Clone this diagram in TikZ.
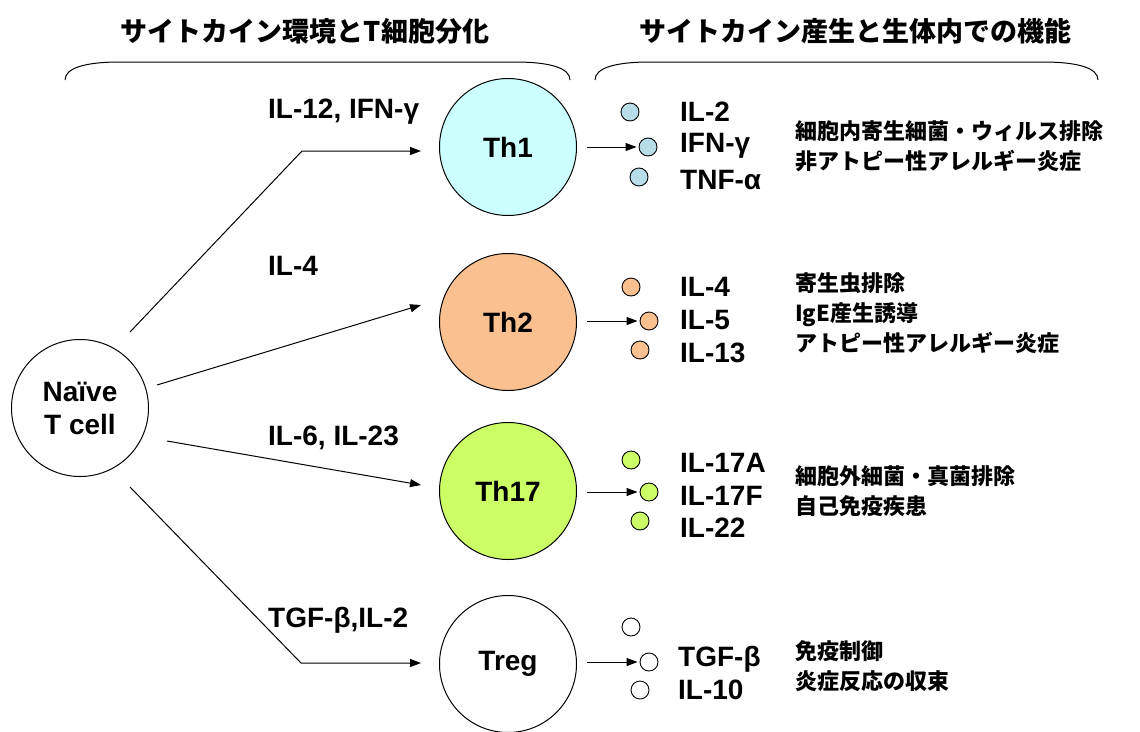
\documentclass[tikz,border=0pt]{standalone}
\usepackage{fontspec}
\setmainfont{Liberation Sans}
\newfontfamily\jp{Noto Sans CJK JP}
\usetikzlibrary{arrows.meta}
\definecolor{thone}{HTML}{CCFFFF}
\definecolor{thonesm}{HTML}{B7DEE8}
\definecolor{thtwo}{HTML}{FAC090}
\definecolor{thsev}{HTML}{CCFF66}
\begin{document}
\begin{tikzpicture}[x=1pt,y=-1pt,
  lat/.style={font=\fontsize{28}{33}\selectfont\bfseries, inner sep=0pt},
  cell/.style={circle, draw, line width=1pt, minimum size=137pt, inner sep=0pt, font=\fontsize{28}{33}\selectfont\bfseries, align=center},
  dot/.style={circle, draw, line width=0.9pt, minimum size=18pt, inner sep=0pt},
  lbl/.style={lat, anchor=west},
  desc/.style={font=\jp\bfseries\fontsize{22}{30}\selectfont, inner sep=0pt, anchor=west, align=left},
  ttl/.style={font=\jp\bfseries\fontsize{27}{32}\selectfont, inner sep=0pt},
  conn/.style={line width=1pt, -{Triangle[length=11pt,width=8pt]}},
  brace/.style={line width=1pt}]
\useasboundingbox (0,0) rectangle (1140,731);

% titles
\node[ttl] (t1) at (305,31) {サイトカイン環境とT細胞分化};
\node[ttl] (t2) at (855,31) {サイトカイン産生と生体内での機能};

% braces
\draw[brace] (65,80) .. controls (65,68) and (85,62) .. (120,62) -- (515,62) .. controls (550,62) and (570,68) .. (570,80);
\draw[brace] (595,80) .. controls (595,68) and (615,62) .. (650,62) -- (1043,62) .. controls (1078,62) and (1098,68) .. (1098,80);

% cells
\node[cell] (naive) at (80,408) {Naïve\\T cell};
\node[cell, fill=thone] (th1) at (508,147) {Th1};
\node[cell, fill=thtwo] (th2) at (508,322) {Th2};
\node[cell, fill=thsev] (th17) at (508,491) {Th17};
\node[cell] (treg) at (508,664) {Treg};

% left connectors
\coordinate (s1) at (130,332);
\coordinate (b1) at (302,151);
\coordinate (e1) at (421,151);
\coordinate (s2) at (157,385);
\coordinate (e2) at (421,305);
\coordinate (s3) at (167,441);
\coordinate (e3) at (421,485);
\coordinate (s4) at (130,487);
\coordinate (b4) at (301,663);
\coordinate (e4) at (421,663);
\draw[conn] (s1) -- (b1) -- (e1);
\draw[conn] (s2) -- (e2);
\draw[conn] (s3) -- (e3);
\draw[conn] (s4) -- (b4) -- (e4);

% left labels
\node[lbl] (l1) at (268,112) {IL-12, IFN-γ};
\node[lbl] (l2) at (268,266) {IL-4};
\node[lbl] (l3) at (268,438) {IL-6, IL-23};
\node[lbl] (l4) at (268,620) {TGF-β,IL-2};

% Th1 outputs
\node[dot, fill=thonesm] (d11) at (630,112) {};
\node[dot, fill=thonesm] (d12) at (648,147) {};
\node[dot, fill=thonesm] (d13) at (639,177) {};
\coordinate (o1) at (587,147);
\draw[conn, shorten >=2pt] (o1) -- (d12.west);
\node[lbl] (c11) at (680,112) {IL-2};
\node[lbl] (c12) at (680,146) {IFN-γ};
\node[lbl] (c13) at (680,180) {TNF-α};
\node[desc] (f1) at (795,146) {細胞内寄生細菌・ウィルス排除\\非アトピー性アレルギー炎症};

% Th2 outputs
\node[dot, fill=thtwo] (d21) at (631,287) {};
\node[dot, fill=thtwo] (d22) at (649,321) {};
\node[dot, fill=thtwo] (d23) at (640,350) {};
\coordinate (o2) at (587,321);
\draw[conn, shorten >=2pt] (o2) -- (d22.west);
\node[lbl] (c21) at (680,287) {IL-4};
\node[lbl] (c22) at (680,320) {IL-5};
\node[lbl] (c23) at (680,353) {IL-13};
\node[desc] (f2) at (795,313) {寄生虫排除\\IgE産生誘導\\アトピー性アレルギー炎症};

% Th17 outputs
\node[dot, fill=thsev] (d31) at (631,460) {};
\node[dot, fill=thsev] (d32) at (649,492) {};
\node[dot, fill=thsev] (d33) at (640,521) {};
\coordinate (o3) at (587,492);
\draw[conn, shorten >=2pt] (o3) -- (d32.west);
\node[lbl] (c31) at (680,463) {IL-17A};
\node[lbl] (c32) at (680,496) {IL-17F};
\node[lbl] (c33) at (680,528) {IL-22};
\node[desc] (f3) at (795,491) {細胞外細菌・真菌排除\\自己免疫疾患};

% Treg outputs
\node[dot, fill=white] (d41) at (631,627) {};
\node[dot, fill=white] (d42) at (649,662) {};
\node[dot, fill=white] (d43) at (640,690) {};
\coordinate (o4) at (587,662);
\draw[conn, shorten >=2pt] (o4) -- (d42.west);
\node[lbl] (c42) at (678,659) {TGF-β};
\node[lbl] (c43) at (678,690) {IL-10};
\node[desc] (f4) at (795,666) {免疫制御\\炎症反応の収束};
\end{tikzpicture}
\end{document}
